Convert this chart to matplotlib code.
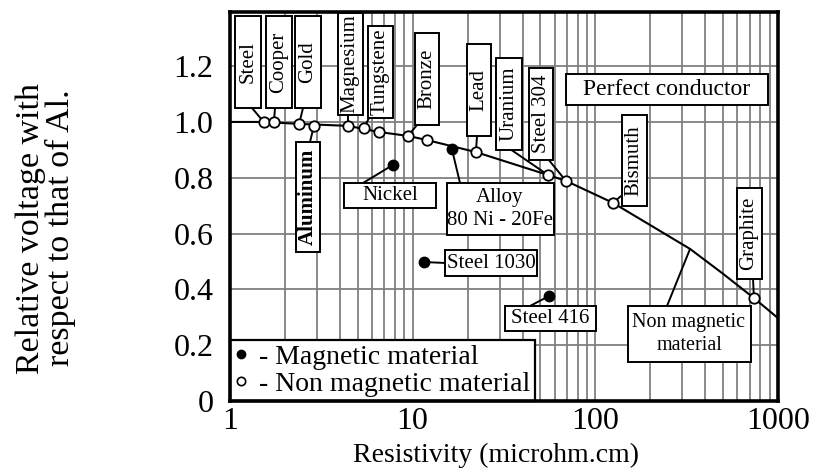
import matplotlib
matplotlib.use("Agg")
import matplotlib.pyplot as plt
from matplotlib.lines import Line2D
from matplotlib.patches import Rectangle, ConnectionPatch
from matplotlib.ticker import FixedLocator, LogLocator, NullFormatter

# non magnetic materials (open circles)
nonmag_names = ["Steel", "Cooper", "Gold", "Aluminum", "Magnesium", "Tungstene", "",
                "Bronze", "", "Lead", "Uranium", "Steel 304", "Bismuth", "Graphite"]
nonmag_resistivity = [1.53, 1.74, 2.39, 2.88, 4.42, 5.41, 6.54, 9.42, 12.0, 22.2, 55.0, 69.0, 125.0, 738.0]
nonmag_voltage = [1.0, 1.0, 0.993, 0.986, 0.986, 0.978, 0.964, 0.950, 0.935, 0.892, 0.810, 0.789, 0.710, 0.369]

# magnetic materials (filled circles)
mag_names = ["Nickel", "Alloy\n80 Ni - 20Fe", "Steel 1030", "Steel 416"]
mag_resistivity = [7.8, 16.4, 11.5, 55.7]
mag_voltage = [0.846, 0.903, 0.498, 0.376]

# the "non magnetic material" curve
curve_resistivity = [1.0, 1.53, 2.39, 4.42, 6.54, 9.42, 12.0, 22.2, 55.0, 69.0, 125.0, 199.0, 330.0, 493.0, 738.0, 1000.0]
curve_voltage = [1.0, 1.0, 0.993, 0.986, 0.964, 0.950, 0.935, 0.892, 0.810, 0.789, 0.710, 0.631, 0.545, 0.459, 0.369, 0.297]

x_ticks = [1, 10, 100, 1000]
x_tick_labels = ["1", "10", "100", "1000"]
y_ticks = [0, 0.2, 0.4, 0.6, 0.8, 1.0, 1.2]
y_tick_labels = ["0", "0.2", "0.4", "0.6", "0.8", "1.0", "1.2"]

W, H = 816, 475
SERIF = "Liberation Serif"
plt.rcParams["font.family"] = [SERIF, "DejaVu Serif"]


def fx(px):
    return px / W


def fy(py):
    return 1 - py / H


fig = plt.figure(figsize=(W / 100, H / 100), dpi=100)
ax = fig.add_axes([fx(230), fy(401), 548 / W, 389 / H])

ax.set_xscale("log")
ax.set_xlim(1, 1000)
ax.set_ylim(0, 1.394)

ax.xaxis.set_major_locator(FixedLocator(x_ticks))
ax.set_xticklabels(x_tick_labels)
ax.xaxis.set_minor_locator(LogLocator(base=10, subs=range(2, 10)))
ax.xaxis.set_minor_formatter(NullFormatter())
ax.set_yticks(y_ticks)
ax.set_yticklabels(y_tick_labels)
ax.tick_params(which="both", length=0, labelsize=23)
ax.tick_params(axis="x", pad=4)
ax.tick_params(axis="y", pad=12)

ax.grid(which="both", color="#808080", linewidth=1.3, zorder=0)
ax.set_axisbelow(True)
for sp in ax.spines.values():
    sp.set_linewidth(2.6)
    sp.set_zorder(20)

ax.plot(curve_resistivity, curve_voltage, color="black", linewidth=1.5, zorder=3)
ax.plot(nonmag_resistivity, nonmag_voltage, linestyle="none", marker="o", markersize=7.5,
        markerfacecolor="white", markeredgecolor="black", markeredgewidth=1.3, zorder=6)
ax.plot(mag_resistivity, mag_voltage, linestyle="none", marker="o", markersize=7.5,
        color="black", zorder=6)

# label boxes: (series, index, centre x px, centre y px, width px, height px, rotation, leader start px)
label_layout = [
    ("n", 0, 248, 62, 26, 91, 90, (252, 108)),
    ("n", 1, 278.5, 62, 26, 91, 90, (275, 108)),
    ("n", 2, 308, 62, 26, 91, 90, (303, 108)),
    ("n", 3, 308, 197, 24, 110, 90, (310, 142)),
    ("n", 4, 350, 64, 25, 102, 90, (348, 115)),
    ("n", 5, 380, 72, 25, 91, 90, (369, 118)),
    ("n", 7, 427, 79, 24, 92, 90, (417, 125)),
    ("n", 9, 479, 90, 24, 92, 90, (477, 136)),
    ("n", 10, 509, 104, 25, 91, 90, (510, 149)),
    ("n", 11, 541, 114, 24, 91, 90, (548, 159)),
    ("n", 12, 634, 161, 25, 91, 90, (621, 196)),
    ("n", 13, 749, 233, 25, 91, 90, (753, 278)),
    ("m", 0, 390, 195.5, 92, 25, 0, (363, 183)),
    ("m", 1, 500, 209, 107, 52, 0, (460, 183)),
    ("m", 2, 491, 263, 91, 26, 0, (446, 263)),
    ("m", 3, 550, 318.5, 91, 25, 0, (530, 306)),
]


def draw_box(cx, cy, w, h, text, rot, size, weight="normal"):
    rect = Rectangle((fx(cx - w / 2), fy(cy + h / 2)), w / W, h / H, transform=fig.transFigure,
                     facecolor="white", edgecolor="black", linewidth=1.4, zorder=8, clip_on=False)
    ax.add_artist(rect)
    ax.text(fx(cx), fy(cy), text, transform=fig.transFigure, rotation=rot, ha="center", va="center",
            fontsize=size, fontweight=weight, linespacing=1.25, zorder=9, clip_on=False)


for series, idx, cx, cy, w, h, rot, start in label_layout:
    if series == "n":
        name, px_pt = nonmag_names[idx], (nonmag_resistivity[idx], nonmag_voltage[idx])
    else:
        name, px_pt = mag_names[idx], (mag_resistivity[idx], mag_voltage[idx])
    weight = "bold" if name == "Aluminum" else "normal"
    draw_box(cx, cy, w, h, name, rot, 15, weight)
    leader = ConnectionPatch(xyA=(fx(start[0]), fy(start[1])), coordsA=fig.transFigure,
                             xyB=px_pt, coordsB=ax.transData, color="black", linewidth=1.4, zorder=4)
    ax.add_artist(leader)

# curve annotation and the perfect conductor box
draw_box(689, 334, 123, 56, "Non magnetic\nmaterial", 0, 14.5)
ax.add_artist(ConnectionPatch(xyA=(fx(667), fy(306)), coordsA=fig.transFigure,
                              xyB=(curve_resistivity[12], curve_voltage[12]), coordsB=ax.transData,
                              color="black", linewidth=1.4, zorder=4))
draw_box(667, 89.5, 202, 31, "Perfect conductor", 0, 17)

handles = [Line2D([], [], linestyle="none", marker="o", markersize=6, color="black"),
           Line2D([], [], linestyle="none", marker="o", markersize=6, markerfacecolor="white",
                  markeredgecolor="black", markeredgewidth=1.2)]
leg = ax.legend(handles, ["- Magnetic material", "- Non magnetic material"], loc="lower left",
                bbox_to_anchor=(0, 0), borderaxespad=0, fontsize=20, frameon=True, fancybox=False,
                framealpha=1, edgecolor="black", handlelength=0.5, handletextpad=0.4,
                labelspacing=0.05, borderpad=0.15)
leg.get_frame().set_linewidth(1.6)
leg.set_zorder(10)

fig.text(fx(496), fy(455), "Resistivity (microhm.cm)", ha="center", va="center", fontsize=20)
fig.text(fx(46), fy(228), "Relative voltage with\nrespect to that of Al.", rotation=90,
         ha="center", va="center", fontsize=24.5, linespacing=0.95)

fig.savefig("out.png", dpi=100)
